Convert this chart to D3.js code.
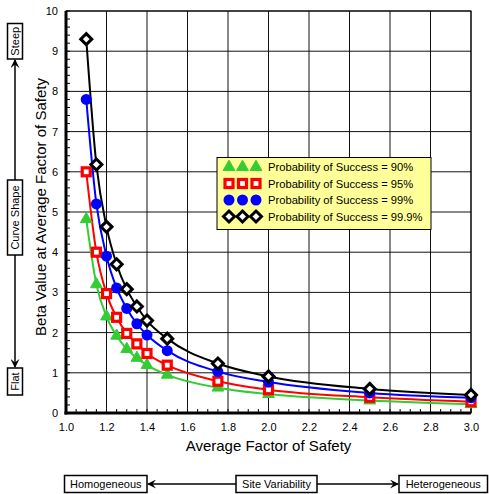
<!DOCTYPE html>
<html><head><meta charset="utf-8">
<script src="https://cdn.jsdelivr.net/npm/d3@7"></script>
<style>body{margin:0;background:#fff}svg{display:block}text{font-family:"Liberation Sans",Arial,sans-serif}</style>
</head><body><svg id="c" width="489" height="494"></svg>
<script>
const fs = [1.1, 1.15, 1.2, 1.25, 1.3, 1.35, 1.4, 1.5, 1.75, 2.0, 2.5, 3.0];
const p90  = [4.82, 3.2, 2.4, 1.92, 1.59, 1.37, 1.19, 0.95, 0.63, 0.47, 0.31, 0.22];
const p95  = [6.0, 4.0, 2.97, 2.38, 1.98, 1.72, 1.48, 1.19, 0.79, 0.58, 0.39, 0.28];
const p99  = [7.8, 5.2, 3.9, 3.11, 2.6, 2.22, 1.94, 1.55, 1.03, 0.77, 0.5, 0.38];
const p999 = [9.3, 6.18, 4.63, 3.7, 3.08, 2.65, 2.3, 1.85, 1.23, 0.91, 0.6, 0.45];
const seriesNames = ["Probability of Success = 90%","Probability of Success = 95%","Probability of Success = 99%","Probability of Success = 99.9%"];
const xTicks = [1.0,1.2,1.4,1.6,1.8,2.0,2.2,2.4,2.6,2.8,3.0];
const yTicks = [0,1,2,3,4,5,6,7,8,9,10];

const svg = d3.select("#c");
const L=66,R=471,T=11,B=413;
const x = d3.scaleLinear().domain([1,3]).range([L,R]);
const y = d3.scaleLinear().domain([0,10]).range([B,T]);

// grid
const g = svg.append("g");
g.selectAll(".vx").data(xTicks).join("line").attr("x1",d=>x(d)).attr("x2",d=>x(d)).attr("y1",T).attr("y2",B).attr("stroke","#111").attr("stroke-width",1);
g.selectAll(".hy").data(yTicks).join("line").attr("y1",d=>y(d)).attr("y2",d=>y(d)).attr("x1",L).attr("x2",R).attr("stroke","#111").attr("stroke-width",1);

// minor ticks
const xMinor = d3.range(1,3.0001,0.05);
svg.append("g").selectAll("line").data(xMinor).join("line").attr("x1",d=>x(d)).attr("x2",d=>x(d)).attr("y1",B).attr("y2",B-4).attr("stroke","#000");
const yMinor = d3.range(0,10.0001,0.2);
svg.append("g").selectAll("line").data(yMinor).join("line").attr("y1",d=>y(d)).attr("y2",d=>y(d)).attr("x1",L).attr("x2",L+4).attr("stroke","#000");

// axes
const xa = svg.append("g").attr("transform",`translate(0,${B})`).call(d3.axisBottom(x).tickValues(xTicks).tickFormat(d3.format(".1f")).tickSize(0).tickPadding(10));
xa.select(".domain").remove();
xa.selectAll("text").attr("font-size",11).attr("fill","#000");
const ya = svg.append("g").attr("transform",`translate(${L},0)`).call(d3.axisLeft(y).tickValues(yTicks).tickFormat(d3.format("d")).tickSize(0).tickPadding(8));
ya.select(".domain").remove();
ya.selectAll("text").attr("font-size",11).attr("fill","#000");
svg.append("rect").attr("x",L).attr("y",T).attr("width",R-L).attr("height",B-T).attr("fill","none").attr("stroke","#000").attr("stroke-width",1);
svg.append("line").attr("x1",L).attr("x2",L).attr("y1",T).attr("y2",B+1.5).attr("stroke","#000").attr("stroke-width",3);
svg.append("line").attr("x1",L-1.5).attr("x2",R).attr("y1",B).attr("y2",B).attr("stroke","#000").attr("stroke-width",3);

// titles
svg.append("text").attr("x",(L+R)/2).attr("y",451).attr("text-anchor","middle").attr("font-size",15).text("Average Factor of Safety");
svg.append("text").attr("transform",`translate(46,207) rotate(-90)`).attr("text-anchor","middle").attr("font-size",15).text("Beta Value at Average Factor of Safety");

// series
const series = [
 {vals:p90, color:"#33cc33", shape:"tri"},
 {vals:p95, color:"#ff0000", shape:"sq"},
 {vals:p99, color:"#0000ff", shape:"cir"},
 {vals:p999, color:"#000000", shape:"dia"}
];
const line = d3.line().x(d=>x(d[0])).y(d=>y(d[1])).curve(d3.curveMonotoneX);
function marker(sel, s){
  if(s.shape==="tri") sel.append("path").attr("d",d3.symbol(d3.symbolTriangle,60)()).attr("fill",s.color).attr("stroke",s.color).attr("stroke-width",1);
  else if(s.shape==="sq") sel.append("rect").attr("x",-4).attr("y",-4).attr("width",8).attr("height",8).attr("fill","#fff").attr("stroke",s.color).attr("stroke-width",3.2);
  else if(s.shape==="cir") sel.append("circle").attr("r",5.5).attr("fill",s.color);
  else sel.append("path").attr("d","M0,-5.5L5.5,0L0,5.5L-5.5,0Z").attr("fill","#fff").attr("stroke",s.color).attr("stroke-width",3);
}
series.forEach(s=>{
  const pts = fs.map((f,i)=>[f,s.vals[i]]);
  svg.append("path").attr("d",line(pts)).attr("fill","none").attr("stroke",s.color).attr("stroke-width",2);
});
series.forEach(s=>{
  const pts = fs.map((f,i)=>[f,s.vals[i]]);
  svg.append("g").selectAll("g").data(pts).join("g").attr("transform",d=>`translate(${x(d[0])},${y(d[1])})`).each(function(){marker(d3.select(this),s);});
});

// legend
const lg = svg.append("g");
lg.append("rect").attr("x",217).attr("y",157.5).attr("width",214).attr("height",72).attr("fill","#ffff99").attr("stroke","#000").attr("stroke-width",1);
series.forEach((s,i)=>{
  const yy = 167 + i*16.5;
  [229,242.5,256].forEach(xx=>{ const m=lg.append("g").attr("transform",`translate(${xx},${yy})`); marker(m,s); });
  lg.append("text").attr("x",268).attr("y",yy+4).attr("font-size",11.2).text(seriesNames[i]);
});

// left annotation
const ann = svg.append("g");
const defs = svg.append("defs");
defs.append("marker").attr("id","ah").attr("viewBox","0 0 10 10").attr("refX",9).attr("refY",5).attr("markerWidth",9).attr("markerHeight",9).attr("markerUnits","userSpaceOnUse").attr("orient","auto")
  .append("path").attr("d","M0,0L10,5L0,10L4,5Z").attr("fill","#000");
ann.append("line").attr("x1",15).attr("x2",15).attr("y1",180).attr("y2",60).attr("stroke","#000").attr("stroke-width",1.5).attr("marker-end","url(#ah)");
ann.append("line").attr("x1",15).attr("x2",15).attr("y1",255).attr("y2",367).attr("stroke","#000").attr("stroke-width",1.5).attr("marker-end","url(#ah)");
function vbox(y0,y1,label){
  ann.append("rect").attr("x",7.5).attr("y",y0).attr("width",15).attr("height",y1-y0).attr("fill","#fff").attr("stroke","#000").attr("stroke-width",1.5);
  ann.append("text").attr("transform",`translate(19,${(y0+y1)/2}) rotate(-90)`).attr("text-anchor","middle").attr("font-size",11).text(label);
}
vbox(23.5,59,"Steep");
vbox(180,255,"Curve Shape");
vbox(368,395,"Flat");

// bottom annotation
ann.append("line").attr("x1",236).attr("x2",148).attr("y1",484).attr("y2",484).attr("stroke","#000").attr("stroke-width",1.5).attr("marker-end","url(#ah)");
ann.append("line").attr("x1",317).attr("x2",398).attr("y1",484).attr("y2",484).attr("stroke","#000").attr("stroke-width",1.5).attr("marker-end","url(#ah)");
function hbox(x0,x1,label){
  ann.append("rect").attr("x",x0).attr("y",475.5).attr("width",x1-x0).attr("height",17).attr("fill","#fff").attr("stroke","#000").attr("stroke-width",1.5);
  ann.append("text").attr("x",(x0+x1)/2).attr("y",488).attr("text-anchor","middle").attr("font-size",11).text(label);
}
hbox(64.5,147,"Homogeneous");
hbox(236,317,"Site Variability");
hbox(399,487.5,"Heterogeneous");
</script></body></html>
